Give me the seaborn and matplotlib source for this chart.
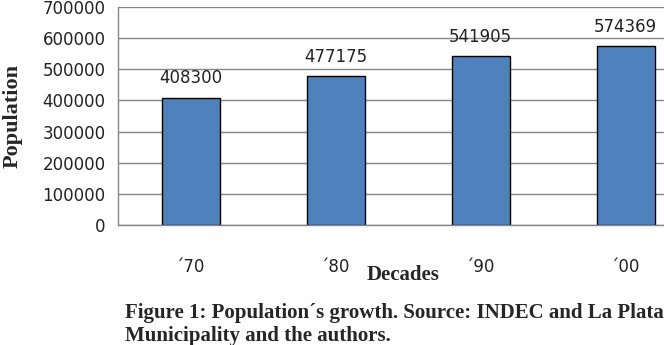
import matplotlib
matplotlib.use("Agg")
import matplotlib.pyplot as plt
import seaborn as sns
import pandas as pd

# ================= DATA =================
decades = ["\u00b470", "\u00b480", "\u00b490", "\u00b400"]
population = [408300, 477175, 541905, 574369]
y_ticks = [0, 100000, 200000, 300000, 400000, 500000, 600000, 700000]

df = pd.DataFrame({"Decades": decades, "Population": population})

# ================= STYLE =================
sns.set_style("white")
plt.rcParams["font.family"] = ["DejaVu Sans"]

W, H = 664, 345
fig = plt.figure(figsize=(W / 100, H / 100), dpi=100)
# plot area runs past the right edge of the picture (cropped like the original)
ax = fig.add_axes([118 / W, 120 / H, 580 / W, 218 / H])

ax.set_axisbelow(True)
ax.yaxis.grid(True, color="#868686", linewidth=1)

sns.barplot(data=df, x="Decades", y="Population", color="#4F81BD",
            saturation=1, width=0.4, edgecolor="black", linewidth=1, ax=ax)

ax.set_xlim(-0.5, 3.5)
ax.set_ylim(0, 700000)
ax.set_yticks(y_ticks)
ax.set_yticklabels([str(v) for v in y_ticks], fontsize=12, color="#222222")

# value labels above bars
for i, v in enumerate(population):
    ax.annotate(str(v), (i, v), xytext=(0, 14), textcoords="offset points",
                ha="center", va="center", fontsize=12, color="#222222")

# category boundaries as tick marks, labels in the middle
ax.set_xticks([-0.5, 0.5, 1.5, 2.5, 3.5], minor=True)
ax.tick_params(axis="x", which="minor", length=6, color="#868686", direction="out")
ax.tick_params(axis="x", which="major", length=0, pad=24, labelsize=12,
               labelcolor="#222222")
ax.tick_params(axis="y", length=6, color="#868686", direction="out", pad=3)

for s in ["top", "right"]:
    ax.spines[s].set_visible(False)
for s in ["left", "bottom"]:
    ax.spines[s].set_color("#868686")
    ax.spines[s].set_linewidth(1)

ax.set_xlabel("Decades", fontsize=15, fontweight="bold", family="Liberation Serif")
ax.xaxis.set_label_coords(285 / 580, -40 / 218)
ax.set_ylabel("Population", fontsize=16, fontweight="bold", family="Liberation Serif")
ax.yaxis.set_label_coords(-95 / 580, 0.5)

# caption under the chart
fig.text(125 / W, 27 / H, "Figure 1: Population\u00b4s growth. Source: INDEC and La Plata",
         fontsize=15, fontweight="bold", family="Liberation Serif", va="baseline")
fig.text(125 / W, 4 / H, "Municipality and the authors.",
         fontsize=15, fontweight="bold", family="Liberation Serif", va="baseline")

plt.savefig("out.png", dpi=100)
